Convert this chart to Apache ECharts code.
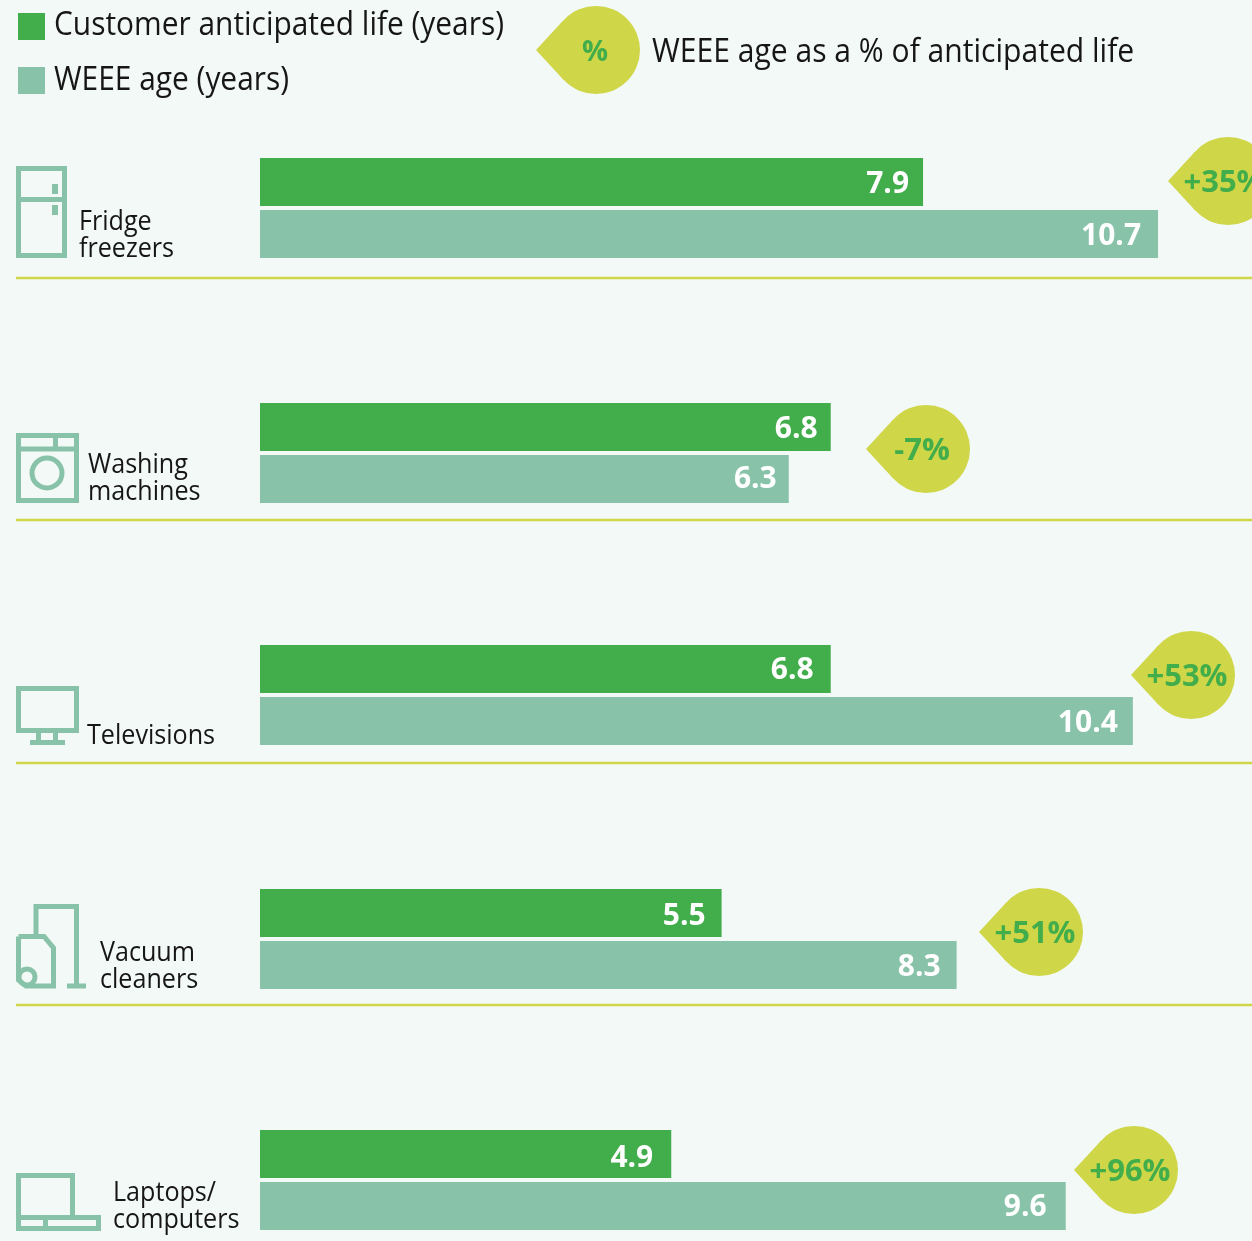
<!DOCTYPE html>
<html>
<head>
<meta charset="utf-8">
<style>html,body{margin:0;padding:0;background:#f3f9f6}#chart{width:1252px;height:1241px}</style>
<script src="https://cdn.jsdelivr.net/npm/echarts@6/dist/echarts.min.js"></script>
</head>
<body>
<div id="chart"></div>
<script>
// Product categories and their values
const categories = ['Fridge\nfreezers', 'Washing\nmachines', 'Televisions', 'Vacuum\ncleaners', 'Laptops/\ncomputers'];
const anticipatedLife = [7.9, 6.8, 6.8, 5.5, 4.9];
const weeeAge = [10.7, 6.3, 10.4, 8.3, 9.6];
const changeLabels = ['+35%', '-7%', '+53%', '+51%', '+96%'];
const lifeName = 'Customer anticipated life (years)';
const ageName = 'WEEE age (years)';
const badgeTitle = 'WEEE age as a % of anticipated life';

// Layout of each row
const rowTops = [158, 403, 645, 889, 1130];
const ruleYs = [278, 520, 763, 1005];
const labelXs = [79, 88, 87, 100, 113];
const labelYs = [209, 452, 723, 940, 1180];
const badgeCentres = [[1228, 181], [926, 449], [1191, 675], [1039, 932], [1134, 1170]];
const lifeInsets = [14, 13, 17, 16, 18];
const ageInsets = [17, 12, 15, 16, 19];
const lifeDrops = [2, 2, 1, 3, 4];
const ageDrops = [2, 0, 2, 2, 1];

const DARK = '#41ad4b', TEAL = '#88c3a9', LIME = '#cfd648', INK = '#161616';
const FONT = '"Open Sans", "Noto Sans", sans-serif';
const AXIS_MAX = 992 / 83.93;

// Teardrop: circle plus a wedge running out to a point on its left
function badge(cx, cy, text, size, dx) {
  return [
    { type: 'polygon', shape: { points: [[cx - 60, cy], [cx - 32.3, cy - 29.9], [cx - 32.3, cy + 29.9]] }, style: { fill: LIME } },
    { type: 'circle', shape: { cx, cy, r: 44 }, style: { fill: LIME } },
    { type: 'text', x: cx + dx, y: cy + 2.5, style: { text, fill: DARK, font: `700 ${size}px ${FONT}`, align: 'center', verticalAlign: 'middle' } }
  ];
}

const iconStyle = { stroke: TEAL, lineWidth: 5, fill: 'none' };
const ln = pts => ({ type: 'polyline', shape: { points: pts }, style: iconStyle });
const box = (x, y, width, height) => ({ type: 'rect', shape: { x, y, width, height }, style: iconStyle });
const solid = (x, y, width, height) => ({ type: 'rect', shape: { x, y, width, height }, style: { fill: TEAL } });

const icons = [
  // fridge
  box(18.5, 168.5, 46, 87), ln([[18.5, 199.5], [64.5, 199.5]]), solid(52, 184, 6, 10), solid(52, 205, 6, 10),
  // washing machine
  box(18.5, 435.5, 58, 65), ln([[18.5, 449], [76.5, 449]]), ln([[55.5, 435.5], [55.5, 449]]),
  { type: 'circle', shape: { cx: 47, cy: 473, r: 15 }, style: iconStyle },
  // television
  box(18.5, 688.5, 58, 42), ln([[38.5, 733], [38.5, 741]]), ln([[55.5, 733], [55.5, 741]]), solid(30, 740, 35, 5),
  // vacuum cleaner
  ln([[36, 934], [36, 906.5], [76.5, 906.5], [76.5, 986]]), solid(67, 983.5, 19, 5),
  ln([[18.5, 936.5], [44, 936.5], [53.5, 948], [53.5, 986], [26, 986], [18.5, 980], [18.5, 936.5]]),
  { type: 'circle', shape: { cx: 27, cy: 977, r: 8 }, style: iconStyle },
  // laptop
  ln([[18.5, 1215], [18.5, 1175.5], [72.5, 1175.5], [72.5, 1215]]), box(18.5, 1217.5, 80, 11), ln([[45.5, 1217.5], [45.5, 1228.5]])
];

const graphics = [
  ...ruleYs.map(y => ({ type: 'rect', shape: { x: 16, y: y - 1.25, width: 1236, height: 2.5 }, style: { fill: LIME } })),
  ...icons,
  ...categories.map((text, i) => ({
    type: 'text', x: labelXs[i], y: labelYs[i], scaleX: 0.897,
    style: { text, fill: INK, font: `28px ${FONT}`, lineHeight: 27, verticalAlign: 'top' }
  })),
  // legend wording, narrowed to the width of the swatch column's text
  { type: 'text', x: 54, y: 26, scaleX: 0.934, style: { text: lifeName, fill: INK, font: `32px ${FONT}`, verticalAlign: 'middle' } },
  { type: 'text', x: 54, y: 81, scaleX: 0.934, style: { text: ageName, fill: INK, font: `32px ${FONT}`, verticalAlign: 'middle' } },
  ...badge(596, 50, '%', 29, -1),
  { type: 'text', x: 652, y: 53, scaleX: 0.94, style: { text: badgeTitle, fill: INK, font: `32px ${FONT}`, verticalAlign: 'middle' } },
  ...changeLabels.flatMap((t, i) => badge(badgeCentres[i][0], badgeCentres[i][1], t, 31, -4))
];

const valueLabel = (inset, drop) => ({ show: true, position: 'insideRight', distance: inset, offset: [0, drop], color: '#fff', fontFamily: FONT, fontWeight: 700, fontSize: 30 });

const option = {
  backgroundColor: '#f3f9f6',
  animation: false,
  legend: {
    left: 18, top: 13, padding: 0, orient: 'vertical', itemWidth: 27, itemHeight: 27, itemGap: 27,
    data: [lifeName, ageName], icon: 'rect', selectedMode: false,
    formatter: () => '',
    textStyle: { fontFamily: FONT, fontSize: 12 }
  },
  grid: rowTops.map(top => ({ left: 260, top, width: 992, height: 100 })),
  xAxis: rowTops.map((_, i) => ({ type: 'value', gridIndex: i, min: 0, max: AXIS_MAX, show: false })),
  yAxis: rowTops.map((_, i) => ({ type: 'category', gridIndex: i, data: [categories[i]], inverse: true, show: false })),
  series: categories.flatMap((_, i) => [
    { name: lifeName, type: 'bar', xAxisIndex: i, yAxisIndex: i, data: [anticipatedLife[i]], barWidth: 48, barGap: '8.33%', itemStyle: { color: DARK }, label: valueLabel(lifeInsets[i], lifeDrops[i]) },
    { name: ageName, type: 'bar', xAxisIndex: i, yAxisIndex: i, data: [weeeAge[i]], barWidth: 48, barGap: '8.33%', itemStyle: { color: TEAL }, label: valueLabel(ageInsets[i], ageDrops[i]) }
  ]),
  graphic: graphics.map(g => Object.assign({ silent: true }, g))
};

echarts.init(document.getElementById('chart'), null, { renderer: 'canvas' }).setOption(option);
</script>
</body>
</html>
